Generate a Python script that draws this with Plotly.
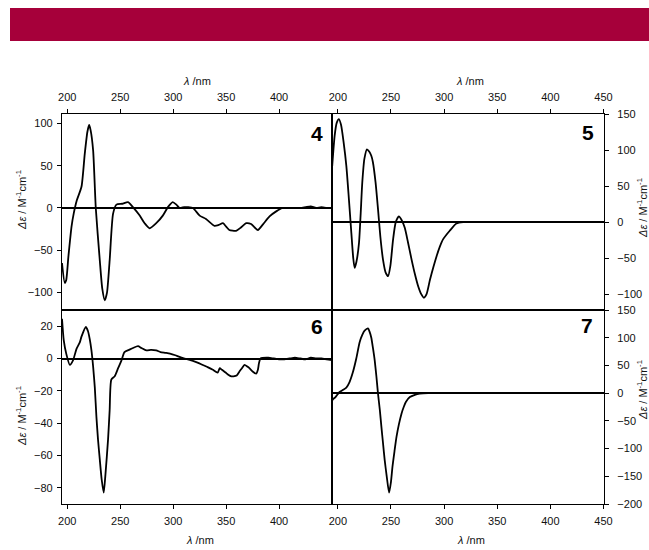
import plotly.graph_objects as go

# ---------------- data ----------------
wl4 = [195, 197.6, 199, 201, 204, 206, 209, 213.4, 216.5, 219, 220.6, 222, 224.4, 226.9, 230.7, 233,
       235.4, 237.5, 240, 243.2, 246.4, 252, 257.4, 262, 268.4, 273, 277.8, 284, 290.2, 295, 299.6,
       303, 306, 310.5, 314, 318.7, 325, 331, 339, 343, 347, 350, 353, 359.4, 364, 368.9, 373.6, 377,
       380, 385, 391, 397.3, 403.6, 410, 420, 425, 430, 435, 440, 445, 450]
de4 = [-65, -88.5, -85, -58, -22, -7, 9, 25, 64, 90, 98, 92, 68, 0, -62, -95,
       -109, -100, -62, -7, 4, 5, 7, 1, -9, -18, -24, -18, -9, 1, 7,
       4, 0, 1, 1, 0, -9, -13, -21, -20, -18, -22, -26, -27, -23, -18, -19, -23,
       -26, -19, -10, -4, 0, 0, 0, 1, 2, 0, 1, 0, 0]

wl5 = [194.7, 197, 199, 201, 203, 205.5, 208, 210.5, 212.7, 214.5, 215.8, 217.5, 219.9, 221.5, 223,
       225, 227.4, 229.5, 231.5, 233, 235.5, 237.8, 240, 242.5, 245, 247.3, 249.5, 252, 254.5, 257.4,
       260, 263, 266, 269.4, 272.5, 275.6, 278.5, 281, 283.5, 286.7, 290, 293, 296, 299, 305.3, 311.6,
       318, 330, 350, 380, 400, 420, 450]
de5 = [78, 120, 138, 143, 135, 110, 78, 30, -15, -50, -63.5, -55, -29, 12, 55,
       88, 101, 98, 92, 83, 55, 18, -20, -52, -70, -75, -60, -24, 0, 8,
       3, -8, -28, -52, -72, -89, -100, -105, -100, -80, -62, -47, -34, -24, -12, -2,
       0, 0, 0, 0, 0, 0, 0]

wl6 = [195, 196.7, 199, 202.4, 205.5, 208.7, 211.8, 213.4, 217.5, 219.5, 221.2, 222.8, 224.4, 226,
       227.5, 229, 230.7, 232.5, 234.4, 236, 238.5, 240, 241.6, 244.8, 248, 251, 254, 258.7, 262,
       266.8, 270, 274.7, 279, 284, 288, 292.8, 297, 302, 306, 310.8, 318.6, 323, 328, 333, 337.5,
       342, 344, 346, 349.5, 352, 354.9, 357, 360, 362.6, 365, 367.4, 370, 372, 375, 378.4, 380, 381,
       382.5, 390, 395, 400, 405, 410, 415, 420, 425, 430, 435, 440, 445, 450]
de6 = [24.6, 11, 3, -4, -1, 6, 10, 13.5, 19.5, 17, 12, 5, -5, -18,
       -36, -50, -62.6, -75, -83, -72, -50, -32, -13, -11, -6, -1.5, 4, 5.5, 6.5,
       7.6, 6.5, 5, 5.3, 5, 4, 3.5, 3, 2, 1, 0, -1.5, -2.5, -4, -5.5, -7,
       -8.7, -6, -7, -8.7, -10, -11, -11, -10.5, -8, -6, -4, -5, -6, -8, -9.4, -7, -3,
       0, 0.5, 0, -0.5, -0.5, 0, 0.5, 0, -0.5, 0.5, 0, 0, -0.5, -1]

wl7 = [194.7, 196, 197.8, 201.6, 205, 208, 211, 214.2, 217.3, 220.5, 223, 225.2, 228.4, 230, 231.5,
       233, 234.7, 236.3, 237.8, 239.5, 241, 242.5, 244.1, 246, 248.2, 250, 251.4, 253.3, 255.2,
       257.5, 259.9, 262, 264, 267.8, 272.5, 277, 285, 300, 350, 400, 450]
de7 = [-13, -10, -7, 2, 6, 10, 20, 38, 62, 92, 105, 112.6, 116.7, 110, 100,
       82, 59, 30, -1, -30, -61, -90, -121, -150, -179.5, -160, -133, -105, -79,
       -56, -37, -25, -16, -7, -3, -1, 0, 0, 0, 0, 0]

panel_labels = ["4", "5", "6", "7"]
x_ticks_left = [200, 250, 300, 350, 400]
x_ticks_right = [200, 250, 300, 350, 400, 450]
y_ticks_4 = [-100, -50, 0, 50, 100]
y_ticks_5 = [-100, -50, 0, 50, 100, 150]
y_ticks_6 = [-80, -60, -40, -20, 0, 20]
y_ticks_7 = [-200, -150, -100, -50, 0, 50, 100, 150]

y_title = "<i>Δε</i> / M<sup>-1</sup>cm<sup>-1</sup>"
x_title = "<i>λ</i> /nm"

# ---------------- layout geometry (pixels -> paper) ----------------
W, H = 649, 550
def px(x):
    return x / W
def py(y):
    return 1 - y / H

X_L = [px(62), px(332)]
X_R = [px(332), px(604)]
Y_T = [py(310), py(114)]
Y_B = [py(504), py(310)]

FONT = "Liberation Sans, Arial, Helvetica, sans-serif"
tickfont = dict(family=FONT, size=11, color="#111")

fig = go.Figure()
line = dict(color="black", width=1.8, shape="spline", smoothing=0.6)
for i, (xs, ys) in enumerate([(wl4, de4), (wl5, de5), (wl6, de6), (wl7, de7)]):
    suffix = "" if i == 0 else str(i + 1)
    fig.add_trace(go.Scatter(x=xs, y=ys, mode="lines", line=line,
                             xaxis="x" + suffix, yaxis="y" + suffix,
                             hoverinfo="skip", showlegend=False))

def xax(domain, anchor, side, rng, ticks):
    return dict(domain=domain, anchor=anchor, side=side, range=rng, tickvals=ticks,
                ticks="outside", ticklen=4, tickwidth=1, tickcolor="black",
                showline=True, linecolor="black", linewidth=1.3, mirror=True,
                showgrid=False, zeroline=False, tickfont=tickfont, automargin=False,
                ticklabelstandoff=3)

def yax(domain, anchor, side, rng, ticks, standoff):
    return dict(domain=domain, anchor=anchor, side=side, range=rng, tickvals=ticks,
                ticks="outside", ticklen=4, tickwidth=1, tickcolor="black",
                showline=True, linecolor="black", linewidth=1.3, mirror=True,
                showgrid=False, zeroline=True, zerolinecolor="black", zerolinewidth=1.6,
                tickfont=tickfont, automargin=False, ticklabelstandoff=standoff)

fig.update_layout(
    width=W, height=H,
    margin=dict(l=0, r=0, t=0, b=0),
    paper_bgcolor="white", plot_bgcolor="white",
    showlegend=False,
    xaxis=xax(X_L, "y", "top", [195, 450], x_ticks_left),
    yaxis=yax(Y_T, "x", "left", [-120.5, 111], y_ticks_4, 2),
    xaxis2=xax(X_R, "y2", "top", [194.5, 450.5], x_ticks_right),
    yaxis2=yax(Y_T, "x2", "right", [-122, 150], y_ticks_5, 6),
    xaxis3=xax(X_L, "y3", "bottom", [195, 450], x_ticks_left),
    yaxis3=yax(Y_B, "x3", "left", [-90, 30], y_ticks_6, 2),
    xaxis4=xax(X_R, "y4", "bottom", [194.5, 450.5], x_ticks_right),
    yaxis4=yax(Y_B, "x4", "right", [-200, 150], y_ticks_7, 6),
)

# red banner
fig.add_shape(type="rect", xref="paper", yref="paper",
              x0=px(10), x1=1.0, y0=py(41), y1=py(8),
              fillcolor="#A6003A", line=dict(width=0), layer="below")

ann = []
# panel numbers
for lab, (x, y) in zip(panel_labels, [(317, 133), (588, 132), (317, 326), (587, 325)]):
    ann.append(dict(x=px(x), y=py(y), xref="paper", yref="paper", text="<b>%s</b>" % lab,
                    showarrow=False, xanchor="center", yanchor="middle",
                    font=dict(family=FONT, size=21, color="black")))
# x titles
for (x, y) in [(197, 81), (470, 81), (200, 540), (471, 540)]:
    ann.append(dict(x=px(x), y=py(y), xref="paper", yref="paper", text=x_title,
                    showarrow=False, xanchor="center", yanchor="middle",
                    font=dict(family=FONT, size=11, color="#111")))
# y titles
for (x, y) in [(21, 200), (21, 416), (642, 208), (642, 390)]:
    ann.append(dict(x=px(x), y=py(y), xref="paper", yref="paper", text=y_title,
                    showarrow=False, xanchor="center", yanchor="middle", textangle=-90,
                    font=dict(family=FONT, size=11, color="#111")))
fig.update_layout(annotations=ann)

fig.write_html(
    "out.html",
    config={"displayModeBar": False},
    post_script="document.body.style.margin='0';document.body.style.padding='0';"
                "document.body.style.overflow='hidden';"
                "document.documentElement.style.overflow='hidden';",
)
